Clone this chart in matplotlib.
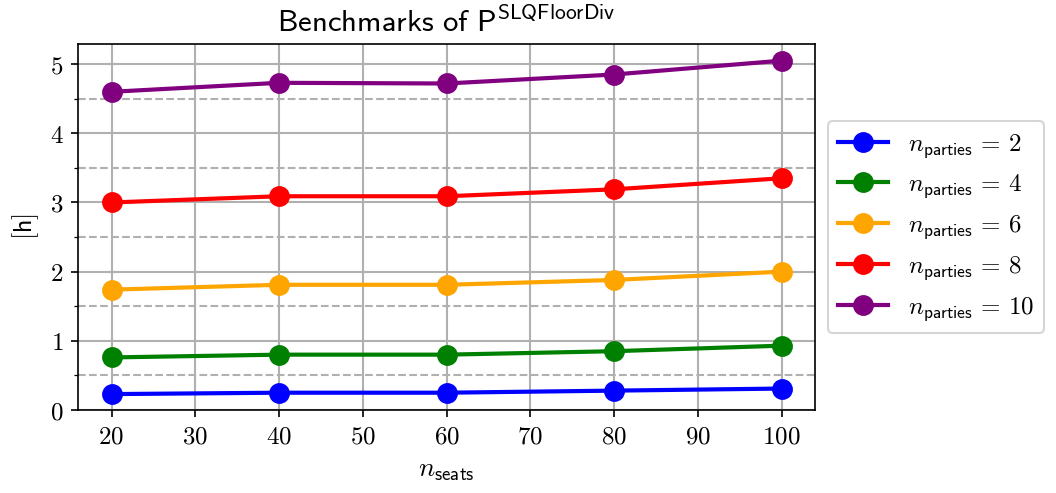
import numpy as np
import matplotlib
matplotlib.use("Agg")
import matplotlib.pyplot as plt
from matplotlib.ticker import MultipleLocator, FuncFormatter

plt.rcParams['mathtext.fontset'] = 'cm'
plt.rcParams['font.size'] = 12

# data (hours)
n_seats = [20, 40, 60, 80, 100]
n_parties = [2, 4, 6, 8, 10]
hours_2 = [0.23, 0.25, 0.25, 0.28, 0.31]
hours_4 = [0.76, 0.80, 0.80, 0.85, 0.93]
hours_6 = [1.74, 1.81, 1.81, 1.88, 2.00]
hours_8 = [3.00, 3.09, 3.09, 3.19, 3.35]
hours_10 = [4.60, 4.73, 4.72, 4.85, 5.05]
colors = ['blue', 'green', 'orange', 'red', 'purple']

series = [hours_2, hours_4, hours_6, hours_8, hours_10]

fig = plt.figure(figsize=(1056 / 150, 493 / 150), dpi=150)
ax = fig.add_subplot(111)
fig.subplots_adjust(left=78 / 1056, right=815 / 1056, top=1 - 44 / 493, bottom=1 - 410 / 493)

for n, vals, c in zip(n_parties, series, colors):
    ax.plot(n_seats, vals, '-o', color=c, lw=2, ms=9,
            label=r'$n_{\mathsf{parties}}\,=\,%d$' % n)

ax.set_ylim(bottom=0)
ax.yaxis.set_major_locator(MultipleLocator(1))
ax.yaxis.set_minor_locator(MultipleLocator(0.5))
ax.xaxis.set_major_locator(MultipleLocator(10))
fmt = FuncFormatter(lambda v, pos: r'$%g$' % v)
ax.xaxis.set_major_formatter(fmt)
ax.yaxis.set_major_formatter(fmt)

ax.grid(True, which='major', color='#b0b0b0', lw=1)
ax.grid(True, which='minor', axis='y', color='#b0b0b0', ls='--', lw=1)
ax.set_axisbelow(True)

ax.set_title(r'$\mathsf{Benchmarks\ of\ P^{SLQFloorDiv}}$', fontsize=14.8)
ax.set_xlabel(r'$n_{\mathsf{seats}}$', fontsize=13)
ax.set_ylabel(r'$\mathsf{[h]}$', fontsize=12.5)
ax.legend(loc='center left', bbox_to_anchor=(1.0, 0.5))

fig.savefig('out.png', dpi=150)
